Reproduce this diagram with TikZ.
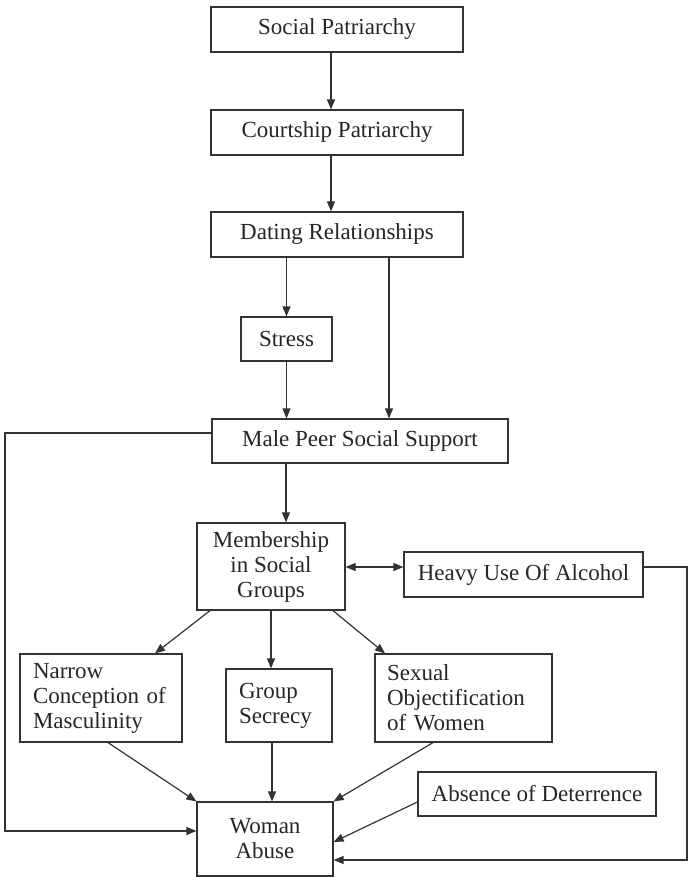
\documentclass[tikz,border=0pt]{standalone}
\usepackage{fontspec}
\setmainfont{Liberation Serif}
\usetikzlibrary{arrows.meta}
\begin{document}
\begin{tikzpicture}[x=1pt,y=-1pt,
 box/.style={draw=black!80, line width=1.2pt, rectangle, inner sep=0pt, font=\fontsize{23}{25}\selectfont, text=black!85},
 arr/.style={draw=black!80, line width=1.2pt, -{Triangle[length=10pt,width=8pt]}},
 dbl/.style={draw=black!80, line width=1.2pt, {Triangle[length=10pt,width=8pt]}-{Triangle[length=10pt,width=8pt]}}]
\useasboundingbox (0,0) rectangle (690,877);
\fill[white] (0,0) rectangle (690,877);

\node[box, minimum width=252pt, minimum height=45pt] (sp) at (337,29.5) {Social Patriarchy};
\node[box, minimum width=252pt, minimum height=45pt] (cp) at (337,132.5) {Courtship Patriarchy};
\node[box, minimum width=252pt, minimum height=45pt] (dr) at (337,234.5) {Dating Relationships};
\node[box, minimum width=91pt, minimum height=44pt] (stress) at (286.5,339) {Stress};
\node[box, minimum width=296pt, minimum height=44pt] (mpss) at (360,441) {Male Peer Social Support};
\node[box, minimum width=148pt, minimum height=87pt, align=center] (mem) at (271,566.5) {Membership\\in Social\\Groups};
\node[box, minimum width=239pt, minimum height=45pt] (heavy) at (523.5,574.5) {Heavy Use Of Alcohol};
\node[box, minimum width=162pt, minimum height=88pt, text width=136pt, align=left] (narrow) at (101,698) {Narrow\\Conception of\\Masculinity};
\node[box, minimum width=106pt, minimum height=73pt, text width=80pt, align=left] (group) at (279,705.5) {Group\\Secrecy};
\node[box, minimum width=177pt, minimum height=88pt, text width=153pt, align=left] (sexual) at (463.5,698) {Sexual\\Objectification\\of Women};
\node[box, minimum width=238pt, minimum height=44pt] (absence) at (537,794) {Absence of Deterrence};
\node[box, minimum width=136pt, minimum height=74pt, align=center] (wa) at (265,839) {Woman\\Abuse};

\coordinate (L) at (5,831);
\coordinate (R) at (687,860);
\coordinate (hw) at ([yshift=7.5pt]heavy.west);

\draw[arr] ([xshift=-6pt]sp.south) -- ([xshift=-6pt]cp.north);
\draw[arr] ([xshift=-6pt]cp.south) -- ([xshift=-6pt]dr.north);
\draw[arr] (stress.north |- dr.south) -- (stress.north);
\draw[arr] ([xshift=52pt]dr.south) -- ([xshift=52pt]dr.south |- mpss.north);
\draw[arr] (stress.south) -- (stress.south |- mpss.north);
\draw[arr] ([yshift=8pt]mpss.west) -| (L) -- ([yshift=8pt]wa.west);
\draw[arr] ([xshift=15pt]mem.north |- mpss.south) -- ([xshift=15pt]mem.north);
\draw[dbl] (hw -| mem.east) -- (hw);
\draw[arr] ([yshift=7.5pt]heavy.east) -| (R) -- ([yshift=-21pt]wa.east);
\draw[arr] ([xshift=-61pt]mem.south) -- ([xshift=54pt]narrow.north);
\draw[arr] (mem.south) -- (mem.south |- group.north);
\draw[arr] ([xshift=62pt]mem.south) -- ([xshift=-78.5pt]sexual.north);
\draw[arr] ([xshift=7pt]narrow.south) -- (wa.north west);
\draw[arr] ([xshift=-7pt]group.south) -- ([xshift=-7pt]group.south |- wa.north);
\draw[arr] ([xshift=-30.5pt]sexual.south) -- (wa.north east);
\draw[arr] ([yshift=-8pt]absence.west) -- ([yshift=-3pt]wa.east);
\end{tikzpicture}
\end{document}
